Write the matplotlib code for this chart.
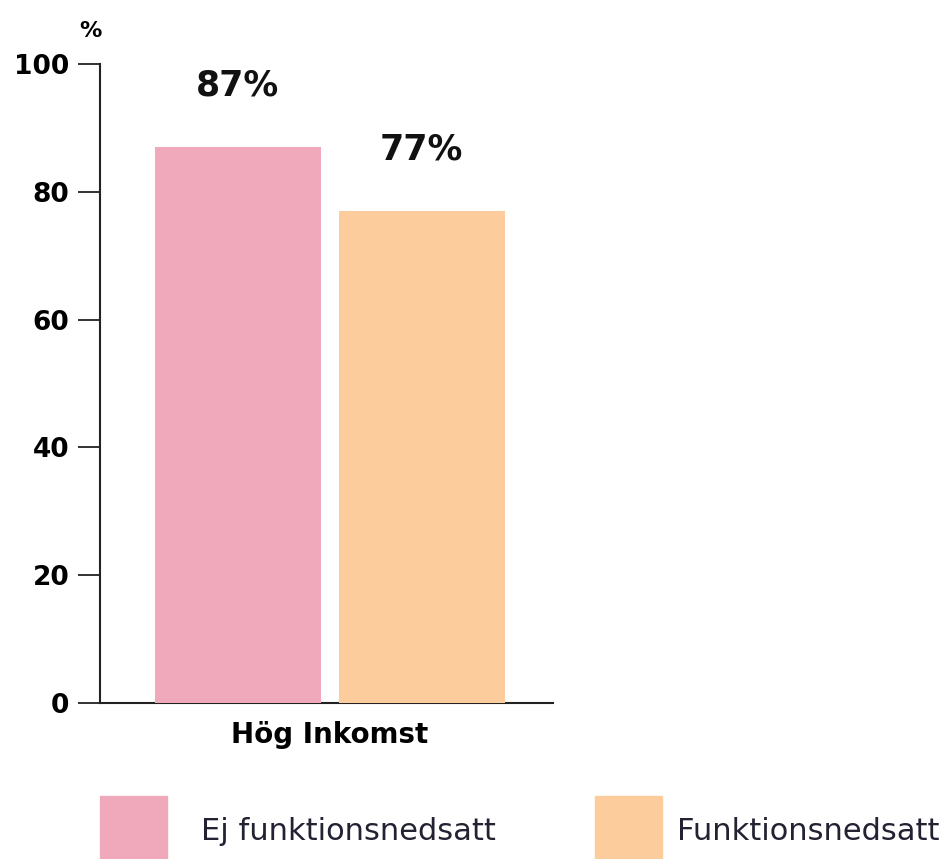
import matplotlib.pyplot as plt
import matplotlib.patches as patches
import numpy as np

groups = ["Hög Inkomst"]
series = ["Ej funktionsnedsatt", "Funktionsnedsatt"]
values = [87, 77]
colors = ["#F0A9BB", "#FCCC9C"]
yticks = [0, 20, 40, 60, 80, 100]

fig = plt.figure(figsize=(9.53, 8.59), dpi=100)
ax = fig.add_axes([100 / 953, 1 - 703 / 859, 453 / 953, 639 / 859])

x = np.arange(len(groups))
width = 0.367
offsets = [-0.203, 0.203]
for i, (name, val, col) in enumerate(zip(series, values, colors)):
    ax.bar(x + offsets[i], [val], width=width, color=col, label=name, zorder=3)
    ax.annotate(f"{val}%", xy=(x[0] + offsets[i], val), xytext=(0, 44),
                textcoords="offset points", ha="center", va="center",
                fontsize=25, fontweight="bold", color="#111111")

ax.set_xlim(-0.507, 0.493)
ax.set_ylim(0, 100)
ax.set_yticks(yticks)
ax.set_yticklabels([str(t) for t in yticks], fontsize=19, fontweight="bold")
ax.set_xticks(x)
ax.set_xticklabels(groups, fontsize=20, fontweight="bold")
ax.tick_params(axis="y", length=16, width=1.3, pad=6, color="#222222")
ax.tick_params(axis="x", length=0, pad=13)
for s in ["top", "right"]:
    ax.spines[s].set_visible(False)
for s in ["left", "bottom"]:
    ax.spines[s].set_linewidth(1.5)
    ax.spines[s].set_color("#222222")

fig.text(90 / 953, 1 - 31 / 859, "%", fontsize=16, fontweight="bold",
         ha="center", va="center")

# legend: two separate entries, placed like the original
leg_x = [100 / 953, 595 / 953]
leg_pad = [1.1, 0.5]
for name, col, lx, pad in zip(series, colors, leg_x, leg_pad):
    fig.legend([patches.Patch(color=col)], [name], loc="upper left",
               bbox_to_anchor=(lx, 1 - 796 / 859), frameon=False,
               fontsize=22, handlelength=2.19, handleheight=3.13,
               handletextpad=pad, borderpad=0, borderaxespad=0,
               labelcolor="#222233")

fig.savefig("out.png", dpi=100)
